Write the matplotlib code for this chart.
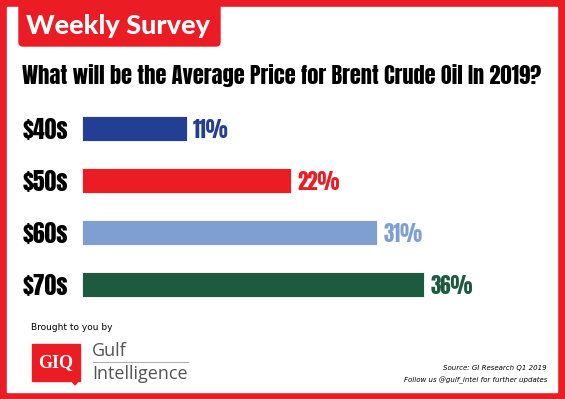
import numpy as np
import matplotlib
matplotlib.use("Agg")
import matplotlib.pyplot as plt
from matplotlib.patches import Rectangle, FancyBboxPatch, Polygon

# survey data
categories = ["$40s", "$50s", "$60s", "$70s"]
shares = [11, 22, 31, 36]
bar_colors = ["#233f95", "#ec1c24", "#7f9fd3", "#1c5b3f"]

title = "Weekly Survey"
question = "What will be the Average Price for Brent Crude Oil In 2019?"
source_lines = ["Source: GI Research Q1 2019",
                "Follow us @gulf_intel for further updates"]

W, H = 565, 399
RED = "#ec1c24"
HEAVY = ["Anton", "Oswald", "DejaVu Sans"]

fig = plt.figure(figsize=(W / 100, H / 100), dpi=100)

# background layer in pixel coordinates
bg = fig.add_axes([0, 0, 1, 1])
bg.set_xlim(0, W)
bg.set_ylim(H, 0)
bg.axis("off")
bg.add_patch(Rectangle((0, 0), W, H, color=RED, zorder=0))
bg.add_patch(Rectangle((7, 7), 550, 385, color="white", zorder=1))
bg.add_patch(FancyBboxPatch((19, -10), 201, 56, boxstyle="round,pad=0,rounding_size=4",
                            color=RED, zorder=2))
bg.text(118, 26, title, color="white", fontsize=19.5, fontweight="black",
        family=["Lato", "DejaVu Sans"], ha="center", va="center", zorder=3)
bg.text(22, 76, question, fontsize=16.2, family=HEAVY,
        ha="left", va="center", zorder=3)

# footer
bg.text(31, 328, "Brought to you by", fontsize=6.5, ha="left", va="center", zorder=3)
bg.add_patch(Rectangle((32, 344), 48, 37, color=RED, zorder=3))
bg.add_patch(Polygon([[71, 380], [79, 380], [75, 385]], closed=True, color=RED, zorder=3))
bg.text(56, 363, "GIQ", color="white", fontsize=13, fontweight="bold",
        family="Liberation Serif", ha="center", va="center", zorder=4)
bg.text(92, 351, "Gulf", color="#555555", fontsize=13, family=["Open Sans", "DejaVu Sans"],
        ha="left", va="center", zorder=3)
bg.text(92, 374, "Intelligence", color="#555555", fontsize=13, family=["Open Sans", "DejaVu Sans"],
        ha="left", va="center", zorder=3)
bg.plot([93, 188], [362, 362], color="#aaaaaa", lw=0.7, zorder=3)
bg.text(547, 368, source_lines[0], fontsize=5, style="italic", ha="right", va="center", zorder=3)
bg.text(547, 380, source_lines[1], fontsize=5, style="italic", ha="right", va="center", zorder=3)

# bar axes, placed in pixels
px_per_pct = 9.5
xmax = 40
left, top, step = 82, 128.5 - 26, 52
ax = fig.add_axes([left / W, (H - (top + 4 * step)) / H, xmax * px_per_pct / W, 4 * step / H])
ax.patch.set_alpha(0)
y = np.arange(len(categories))
ax.barh(y, shares, height=0.48, color=bar_colors, edgecolor="white", linewidth=0.6)
ax.set_xlim(0, xmax)
ax.set_ylim(len(categories) - 0.5, -0.5)
ax.set_yticks(y)
ax.set_yticklabels(categories, fontsize=17, family=HEAVY)
ax.tick_params(axis="y", length=0, pad=10)
ax.set_xticks([])
for s in ax.spines.values():
    s.set_visible(False)
for yi, v, c in zip(y, shares, bar_colors):
    ax.text(v + 0.7, yi + 0.03, f"{v}%", color=c, fontsize=15,
            family=HEAVY, ha="left", va="center")

fig.savefig("out.png", dpi=100)
